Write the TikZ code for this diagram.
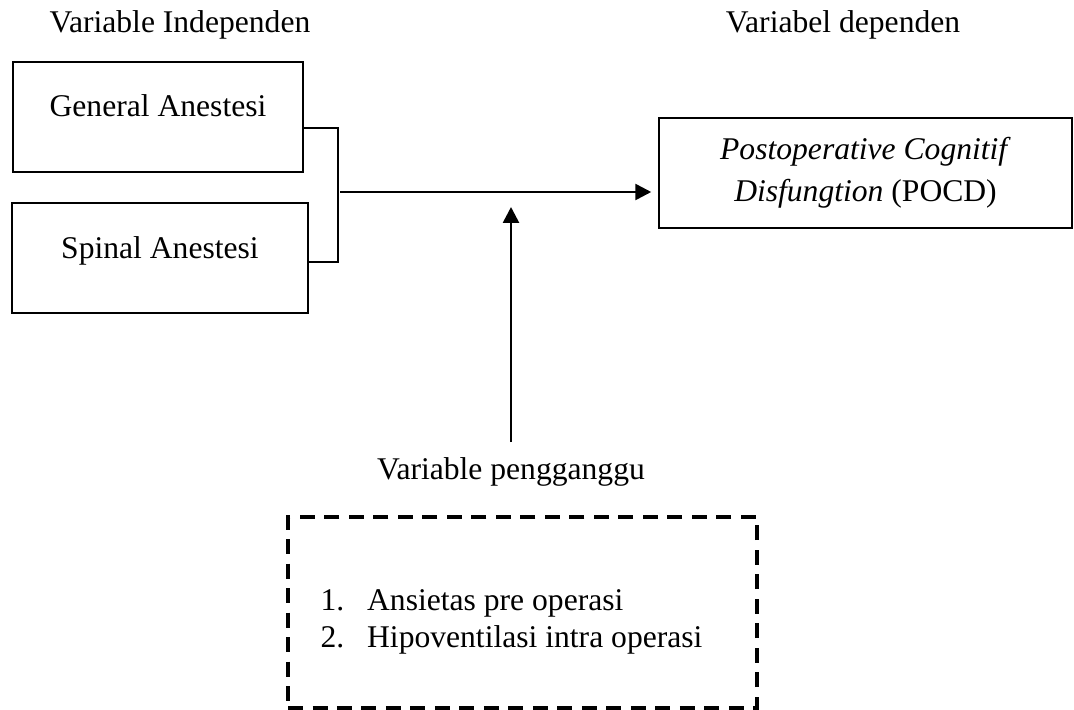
\documentclass[tikz,border=0pt]{standalone}
\usepackage{fontspec}
\setmainfont{Liberation Serif}
\usetikzlibrary{arrows.meta}
\newcommand{\pxu}{0.3797pt}
\begin{document}
\begin{tikzpicture}
[x=\pxu,y=-\pxu,
  font=\fontsize{12pt}{14.5pt}\selectfont,
  boxdecorate/.style={shape=rectangle,draw,line width=0.5pt,inner sep=0pt},%
  dashdecorate/.style={shape=rectangle,draw,line width=1.5pt,dash pattern=on 5.7pt off 3.6pt,inner sep=0pt},%
  linedecorate/.style={-,line width=0.5pt},%
  arrowdecorate/.style={-{Triangle[length=6pt,width=6pt]},line width=1pt}]
\useasboundingbox (0,0) rectangle (1074,709);
%% headers
\node (indep) at (180,33) [anchor=base] {Variable Independen};
\node (dep) at (843,33) [anchor=base] {Variabel dependen};
%% independent boxes
\foreach \nodename/\x/\y/\w/\txt in {
  general/158/117/290/General Anestesi, spinal/160/258/296/Spinal Anestesi}
{
  \node (\nodename) at (\x,\y) [boxdecorate,anchor=base,minimum width=\w*\pxu,
    text height=20.9pt,text depth=20.9pt] {\txt};
}
%% dependent box
\node (pocd) at (865.5,173) [boxdecorate,minimum width=413*\pxu,minimum height=110*\pxu,
  align=center] {\textit{Postoperative Cognitif}\\[1.5pt]\textit{Disfungtion} (POCD)};
%% confounding variables
\node (ganggu) at (511,479) [anchor=base,inner ysep=5.5pt] {Variable pengganggu};
\node (faktor) at (522.5,612.5) [dashdecorate,minimum width=469*\pxu,minimum height=191*\pxu] {};
\node (daftar) at (320,647) [anchor=base west,inner sep=0pt,align=left]
  {1.\hspace{8.7pt}Ansietas pre operasi\\[-0.5pt]2.\hspace{8.7pt}Hipoventilasi intra operasi};
%% edges or lines
\coordinate (joint) at (338,192);
\coordinate (tip) at (511,207);
\draw[linedecorate] ([yshift=-4.2pt]general.east) -| (joint) |- ([yshift=-1.5pt]spinal.east);
\draw[arrowdecorate,shorten >=2.7pt] ([xshift=0.8pt]joint) -- (pocd.west |- joint);
\draw[arrowdecorate] (ganggu) -- (tip);
\end{tikzpicture}
\end{document}
